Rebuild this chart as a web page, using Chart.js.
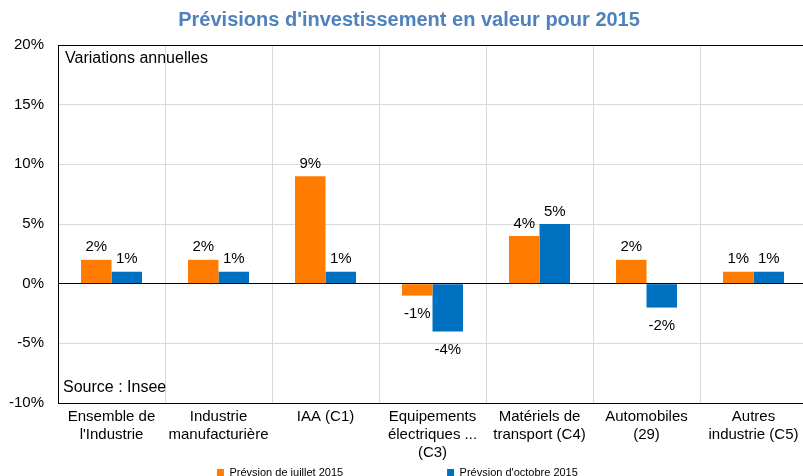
<!DOCTYPE html>
<html>
<head>
<meta charset="utf-8">
<script src="https://cdn.jsdelivr.net/npm/chart.js@4.4.1/dist/chart.umd.min.js"></script>
<style>
    body { margin: 0; overflow: hidden; background: #fff; }
</style>
</head>
<body>
<canvas id="prevChart" width="812" height="476"></canvas>
<script>
// catégories (axe x)
const categories = [
    ['Ensemble de', "l'Industrie"],
    ['Industrie', 'manufacturière'],
    ['IAA (C1)'],
    ['Equipements', 'électriques ...', '(C3)'],
    ['Matériels de', 'transport (C4)'],
    ['Automobiles', '(29)'],
    ['Autres', 'industrie (C5)']
];
const juillet = [2, 2, 9, -1, 4, 2, 1];
const octobre = [1, 1, 1, -4, 5, -2, 1];
const seriesNames = ['Prévsion de juillet 2015', "Prévsion d'octobre 2015"];
const yTicks = [-10, -5, 0, 5, 10, 15, 20];

const FONT = "'Liberation Sans', Arial, sans-serif";

// étiquettes de valeurs + textes dans le cadre
const labelPlugin = {
    id: 'valueLabels',
    afterDatasetsDraw(chart) {
        const ctx = chart.ctx;
        ctx.save();
        ctx.font = '15px ' + FONT;
        ctx.fillStyle = '#000';
        ctx.textAlign = 'center';
        chart.data.datasets.forEach(function (ds, i) {
            chart.getDatasetMeta(i).data.forEach(function (bar, j) {
                const v = ds.data[j];
                if (v >= 0) {
                    ctx.textBaseline = 'bottom';
                    ctx.fillText(v + '%', bar.x, bar.y - 5);
                } else {
                    ctx.textBaseline = 'top';
                    ctx.fillText(v + '%', bar.x, bar.y + 11);
                }
            });
        });
        const a = chart.chartArea;
        ctx.font = '16px ' + FONT;
        ctx.textAlign = 'left';
        ctx.textBaseline = 'middle';
        ctx.fillText('Variations annuelles', a.left + 7, a.top + 14);
        ctx.fillText('Source : Insee', a.left + 5, a.bottom - 15);
        ctx.restore();
    }
};

new Chart(document.getElementById('prevChart').getContext('2d'), {
    type: 'bar',
    data: {
        labels: categories,
        datasets: [{
            label: seriesNames[0],
            data: juillet,
            backgroundColor: '#FF7C00',
            barPercentage: 1,
            categoryPercentage: 0.57
        }, {
            label: seriesNames[1],
            data: octobre,
            backgroundColor: '#0070C0',
            barPercentage: 1,
            categoryPercentage: 0.57
        }]
    },
    options: {
        responsive: false,
        animation: false,
        layout: { padding: { top: 0, right: 5, bottom: -12, left: 0 } },
        plugins: {
            title: {
                display: true,
                text: "  Prévisions d'investissement en valeur pour 2015",
                color: '#4F81BD',
                font: { family: FONT, size: 20, weight: 'bold' },
                padding: { top: 8, bottom: 13 }
            },
            legend: {
                position: 'bottom',
                labels: {
                    boxWidth: 7,
                    boxHeight: 7,
                    padding: 0,
                    color: '#000',
                    font: { family: FONT, size: 11 },
                    generateLabels(chart) {
                        const items = Chart.defaults.plugins.legend.labels.generateLabels(chart);
                        // écart entre les deux entrées
                        items[0].text = items[0].text + ' '.repeat(34);
                        items[1].text = items[1].text + ' '.repeat(4);
                        items.forEach(function (it) { it.lineWidth = 0; });
                        return items;
                    }
                }
            },
            tooltip: { enabled: false }
        },
        scales: {
            x: {
                grid: { color: '#D9D9D9', drawTicks: false },
                border: { color: '#000', width: 1 },
                ticks: {
                    color: '#000',
                    padding: 5,
                    maxRotation: 0,
                    autoSkip: false,
                    font: { family: FONT, size: 15, lineHeight: 1.2 }
                }
            },
            y: {
                min: -10,
                max: 20,
                afterFit(scale) { scale.width = 58; },
                afterBuildTicks(scale) { scale.ticks = yTicks.map(v => ({ value: v })); },
                grid: {
                    drawTicks: false,
                    color: c => (c.tick.value === 0 || c.tick.value === 20) ? '#000' : '#D9D9D9'
                },
                border: { color: '#000', width: 1 },
                ticks: {
                    color: '#000',
                    padding: 14,
                    font: { family: FONT, size: 15 },
                    callback: v => v + '%'
                }
            }
        }
    },
    plugins: [labelPlugin]
});
</script>
</body>
</html>
